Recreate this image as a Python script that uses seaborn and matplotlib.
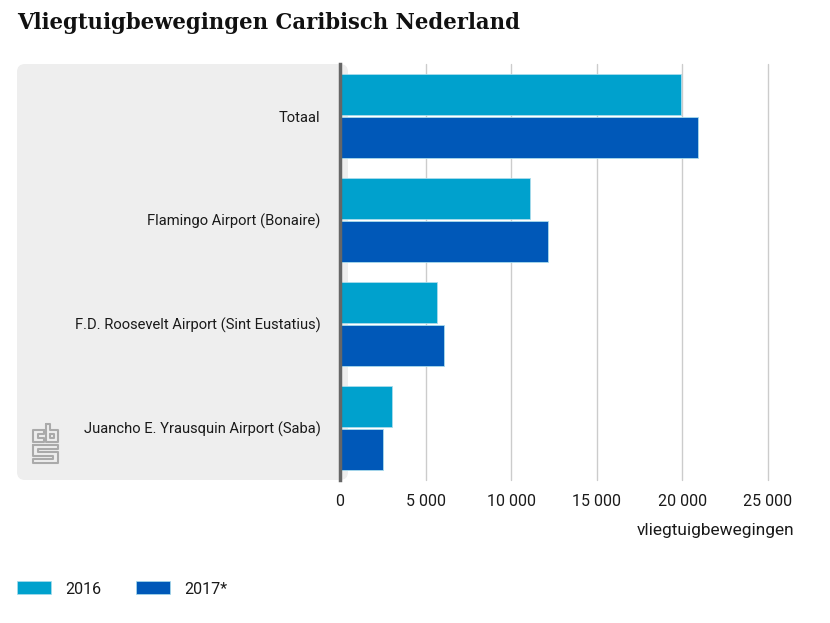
import pandas as pd
import seaborn as sns
from matplotlib import pyplot as plt
from matplotlib.patches import FancyBboxPatch, Patch, Rectangle

W, H = 830, 623

airports = ["Totaal", "Flamingo Airport (Bonaire)", "F.D. Roosevelt Airport (Sint Eustatius)",
            "Juancho E. Yrausquin Airport (Saba)"]
values_2016 = [19900, 11100, 5670, 3030]
values_2017 = [20900, 12150, 6100, 2540]
years = ["2016", "2017*"]
colors = ["#00a1cd", "#0058b8"]
ticks = [0, 5000, 10000, 15000, 20000, 25000]
tick_labels = ["0", "5 000", "10 000", "15 000", "20 000", "25 000"]

df = pd.DataFrame({"airport": airports * 2,
                   "year": [years[0]] * 4 + [years[1]] * 4,
                   "value": values_2016 + values_2017})

sns.set_theme(style="white")
plt.rcParams["font.family"] = ["Roboto", "DejaVu Sans"]
text_col = "#1a1a1a"


def fx(px):
    return px / W


def fy(py):
    return 1 - py / H


fig = plt.figure(figsize=(W / 100, H / 100), dpi=100)

# background axes in pixel coords, for the panel and the logo
bg = fig.add_axes([0, 0, 1, 1], zorder=0)
bg.set_xlim(0, W)
bg.set_ylim(H, 0)
bg.axis("off")
bg.add_patch(FancyBboxPatch((25, 72), 315, 400, boxstyle="round,pad=8,rounding_size=8",
                            fc="#eeeeee", lw=0))
bg.add_patch(Rectangle((300, 64), 40, 416, fc="#eeeeee", lw=0))

# cbs logo, outline strokes
logo = [
    [(44, 430), (33, 430), (33, 442), (44, 442), (44, 438), (38, 438), (38, 434), (44, 434), (44, 430)],
    [(46, 424), (50, 424), (50, 430), (58, 430), (58, 442), (46, 442), (46, 424)],
    [(50, 434), (54, 434), (54, 438), (50, 438), (50, 434)],
    [(33, 445), (58, 445), (58, 449), (38, 449), (38, 452), (58, 452), (58, 463), (33, 463),
     (33, 459), (53, 459), (53, 456), (33, 456), (33, 445)],
]
for pts in logo:
    bg.plot([p[0] for p in pts], [p[1] for p in pts], color="#aaaaaa", lw=1.5)

ax = fig.add_axes([fx(340), fy(480), fx(428), fy(64) - fy(480)], zorder=1)
ax.patch.set_alpha(0)
sns.barplot(data=df, y="airport", x="value", hue="year", order=airports, hue_order=years,
            palette=colors, width=0.83, gap=0.04, saturation=1, dodge=True, legend=False,
            edgecolor="#a9dcec", linewidth=0.6, ax=ax, zorder=3)

ax.set_xlim(0, 25000)
ax.set_ylim(3.5, -0.5)
ax.set_xticks(ticks)
ax.set_xticklabels(tick_labels, fontsize=11.5, color=text_col)
ax.tick_params(axis="x", length=0, pad=10)
ax.tick_params(axis="y", length=0, pad=14, labelsize=10.6, labelcolor=text_col)
ax.xaxis.grid(True, color="#cccccc", lw=1, clip_on=False)
ax.set_axisbelow(True)
ax.set_xlabel("")
ax.set_ylabel("")
for s in ["top", "right", "bottom"]:
    ax.spines[s].set_visible(False)
ax.spines["left"].set_color("#666666")
ax.spines["left"].set_linewidth(2.5)
ax.spines["left"].set_zorder(5)

fig.text(fx(794), fy(531), "vliegtuigbewegingen", ha="right", va="center", fontsize=12.4, color=text_col)
fig.text(fx(17), fy(23), "Vliegtuigbewegingen Caribisch Nederland", ha="left", va="center",
         fontsize=16.9, fontweight="bold", family="DejaVu Serif", stretch="condensed", color="#111111")

# legend
handles = [Patch(fc=c, ec="#a9dcec", lw=0.5) for c in colors]
fig.legend(handles, years, loc="center left", bbox_to_anchor=(fx(17), fy(589)), ncol=2, frameon=False,
           fontsize=11.5, borderpad=0, borderaxespad=0, handlelength=2.13, handleheight=0.875,
           handletextpad=0.875, columnspacing=2.2, labelcolor=text_col)

plt.savefig("out.png", dpi=100)
